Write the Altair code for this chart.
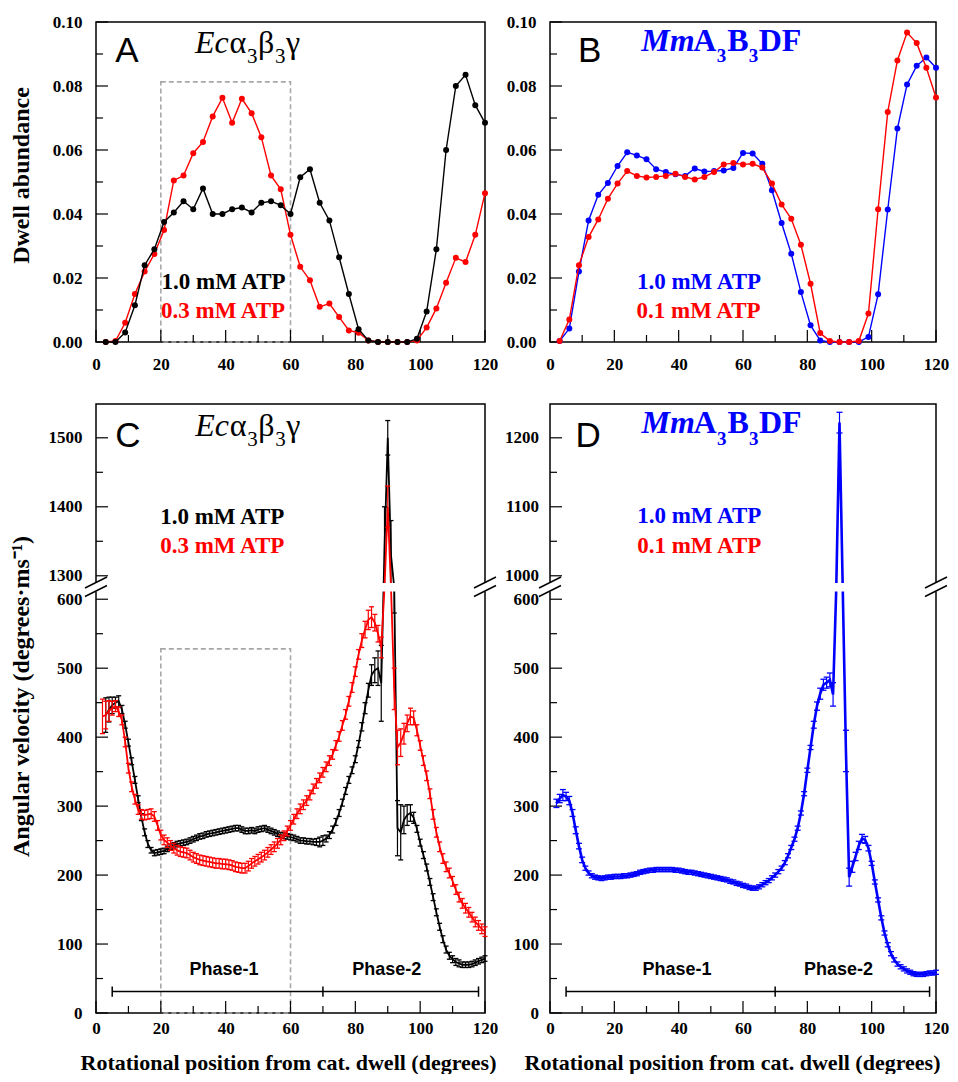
import altair as alt
import pandas as pd

# ---------------- data ----------------
deg_ab = list(range(3, 121, 3))
a_black = [0, 0, 0.003, 0.0115, 0.024, 0.029, 0.0375, 0.0405, 0.044, 0.0415,
           0.048, 0.040, 0.040, 0.0415, 0.042, 0.0405, 0.0435, 0.044, 0.0427, 0.040,
           0.0515, 0.054, 0.0435, 0.038, 0.0265, 0.015, 0.004, 0.0005, 0, 0,
           0, 0, 0.001, 0.0095, 0.029, 0.060, 0.080, 0.0835, 0.074, 0.0685]
a_red = [0, 0.0003, 0.006, 0.015, 0.022, 0.0275, 0.035, 0.0505, 0.052, 0.059,
         0.0625, 0.0705, 0.0763, 0.0685, 0.076, 0.0715, 0.064, 0.052, 0.0477, 0.0335,
         0.0235, 0.0193, 0.011, 0.012, 0.0078, 0.0036, 0.0029, 0.0005, 0, 0,
         0, 0, 0.0005, 0.0045, 0.0105, 0.0185, 0.0263, 0.025, 0.0335, 0.0465]
b_blue = [0.0003, 0.0042, 0.022, 0.038, 0.046, 0.0497, 0.055, 0.0593, 0.0583, 0.0571,
          0.054, 0.0531, 0.0524, 0.0519, 0.0542, 0.0533, 0.0534, 0.0536, 0.0544, 0.0591,
          0.0589, 0.0557, 0.0474, 0.0372, 0.0276, 0.0156, 0.0052, 0.0005, 0, 0,
          0, 0, 0.0016, 0.0149, 0.0414, 0.0667, 0.0805, 0.0863, 0.0889, 0.0857]
b_red = [0.0003, 0.007, 0.024, 0.0328, 0.0383, 0.0448, 0.0495, 0.0534, 0.0519, 0.0514,
         0.0516, 0.0519, 0.0526, 0.0516, 0.0508, 0.0516, 0.0531, 0.0555, 0.0559, 0.0555,
         0.0557, 0.0545, 0.0495, 0.043, 0.0385, 0.0304, 0.0182, 0.0028, 0.0003, 0,
         0, 0.0003, 0.0089, 0.0415, 0.0719, 0.088, 0.0967, 0.0934, 0.0857, 0.0764]

deg_c_black = list(range(3, 121))
c_black = [432, 440, 446, 450, 452, 440, 418, 392, 365, 338,
           310, 284, 262, 245, 236, 232, 233, 234, 235, 238,
           241, 243, 245, 246, 247, 248, 250, 252, 254, 256,
           257, 259, 260, 261, 262, 263, 264, 265, 266, 267,
           268, 268, 266, 264, 264, 265, 264, 266, 267, 268,
           266, 264, 262, 260, 258, 257, 256, 255, 254, 252,
           250, 250, 249, 249, 248, 248, 248, 250, 253, 258,
           266, 277, 290, 305, 322, 338, 352, 368, 390, 415,
           442, 468, 490, 497, 500, 478, 1340, 1500, 1330, 620,
           268, 262, 280, 287, 290, 283, 267, 247, 229, 211,
           190, 168, 146, 125, 107, 92, 83, 78, 74, 72,
           70, 70, 70, 71, 73, 75, 77, 79]
c_black_err = [25, 18, 12, 8, 8, 6, 5, 5, 5, 5,
               5, 5, 5, 5, 4, 4, 4, 4, 4, 4,
               4, 4, 4, 4, 4, 4, 4, 4, 4, 4,
               4, 4, 4, 4, 4, 4, 4, 4, 4, 4,
               4, 4, 4, 4, 4, 4, 4, 4, 4, 4,
               4, 4, 4, 4, 4, 4, 4, 4, 4, 4,
               4, 4, 4, 4, 4, 5, 7, 7, 5, 5,
               5, 5, 5, 5, 5, 5, 5, 5, 5, 6,
               8, 10, 15, 18, 25, 55, 60, 25, 50, 40,
               40, 40, 20, 15, 12, 8, 5, 5, 5, 5,
               5, 5, 5, 5, 5, 5, 5, 5, 5, 5,
               4, 4, 4, 4, 4, 4, 4, 4]
deg_c_red = list(range(2, 121))
c_red = [430, 432, 438, 442, 445, 437, 425, 393, 355, 328,
         310, 295, 288, 287, 288, 289, 285, 272, 258, 251,
         247, 243, 239, 236, 234, 233, 232, 229, 226, 224,
         222, 221, 220, 219, 218, 217, 217, 216, 216, 215,
         214, 212, 211, 210, 210, 213, 217, 220, 223, 226,
         229, 233, 237, 241, 246, 251, 257, 264, 272, 281,
         289, 296, 302, 308, 316, 325, 333, 341, 349, 357,
         366, 375, 388, 401, 417, 433, 452, 472, 495, 520,
         540, 556, 570, 574, 566, 550, 530, 1000, 1400, 1000,
         470, 385, 392, 405, 420, 430, 428, 410, 388, 366,
         344, 318, 288, 262, 241, 224, 212, 203, 191, 179,
         168, 159, 152, 146, 139, 132, 127, 122, 118]
c_red_err = [25, 20, 15, 10, 8, 7, 7, 7, 7, 7,
             7, 7, 7, 7, 7, 7, 7, 7, 7, 7,
             7, 7, 7, 7, 7, 7, 7, 7, 7, 7,
             7, 7, 7, 7, 7, 7, 7, 7, 7, 7,
             7, 7, 7, 7, 7, 7, 7, 7, 7, 7,
             7, 7, 7, 7, 7, 7, 7, 7, 7, 7,
             7, 7, 7, 7, 7, 7, 7, 7, 7, 7,
             7, 7, 7, 7, 7, 7, 7, 7, 7, 7,
             10, 12, 14, 15, 12, 12, 15, 40, 30, 40,
             30, 25, 20, 15, 12, 12, 10, 8, 7, 7,
             7, 7, 7, 7, 7, 7, 7, 7, 7, 7,
             7, 7, 7, 7, 7, 7, 7, 7, 7]
deg_d_blue = list(range(2, 121))
d_blue = [304, 311, 316, 314, 308, 290, 265, 242, 222, 210,
          203, 199, 197, 196, 195, 196, 197, 197, 198, 198,
          198, 199, 199, 200, 201, 202, 204, 205, 206, 207,
          207, 208, 208, 208, 208, 208, 208, 207, 207, 206,
          205, 204, 204, 203, 202, 201, 200, 199, 198, 197,
          196, 195, 194, 193, 191, 190, 188, 187, 185, 184,
          182, 181, 181, 183, 186, 189, 192, 196, 200, 205,
          210, 218, 228, 240, 252, 268, 290, 318, 352, 385,
          418, 445, 463, 476, 479, 483, 462, 900, 1222, 900,
          380, 197, 212, 227, 243, 253, 251, 239, 217, 190,
          164, 138, 116, 99, 86, 77, 71, 67, 64, 61,
          59, 57, 56, 56, 56, 57, 58, 58, 59]
d_blue_err = [6, 6, 8, 6, 6, 5, 5, 4, 4, 3,
              3, 3, 3, 3, 3, 3, 3, 3, 3, 3,
              3, 3, 3, 3, 3, 3, 3, 3, 3, 3,
              3, 3, 3, 3, 3, 3, 3, 3, 3, 3,
              3, 3, 3, 3, 3, 3, 3, 3, 3, 3,
              3, 3, 3, 3, 3, 3, 3, 3, 3, 3,
              3, 3, 3, 3, 3, 3, 3, 3, 3, 3,
              3, 3, 3, 3, 3, 3, 3, 3, 3, 3,
              5, 6, 8, 8, 8, 10, 17, 80, 15, 80,
              30, 13, 8, 6, 6, 6, 5, 4, 3, 3,
              3, 3, 3, 3, 3, 3, 3, 3, 3, 3,
              3, 3, 3, 3, 3, 3, 3, 3, 3]

x_major = [0, 20, 40, 60, 80, 100, 120]
x_minor = [10, 30, 50, 70, 90, 110]
ab_y_major = [0.0, 0.02, 0.04, 0.06, 0.08, 0.10]
ab_y_minor = [0.01, 0.03, 0.05, 0.07, 0.09]
c_y_major = [0, 100, 200, 300, 400, 500, 600, 1300, 1400, 1500]
c_y_minor = [50, 150, 250, 350, 450, 550, 1350, 1450]
d_y_major = [0, 100, 200, 300, 400, 500, 600, 1000, 1100, 1200]
d_y_minor = [50, 150, 250, 350, 450, 550, 1050, 1150]
c_domain = [0, 617, 1283, 1549]
d_domain = [0, 617, 983, 1249]
phase_edges = [5, 70, 118]
phase_y = 31
phase_cap = 7.5
phase_names = ["Phase-1", "Phase-2"]
phase_name_x = [39.5, 89.7]
phase_name_y = 55
box_a = [20, 60, 0, 0.0813]
box_c = [20, 60, 0, 528]

# ---------------- styling ----------------
SERIF = "Liberation Serif"
SANS = "Liberation Sans"
BLUE = "#0000ff"
RED = "#ff0000"
W_L, W_R = 389, 386
COL_GAP, ROW_GAP = 65, 62
H_T, H_B = 320, 609
BREAK_Y = 183.5
SVG_W, SVG_H = 942, 1066
ORIGIN_X, ORIGIN_Y = 88, 14
XTITLE = "Rotational position from cat. dwell (degrees)"


def one():
    return pd.DataFrame({"k": [0]})


def make_x(pad, title="", tx=0):
    def f(field):
        return alt.X(f"{field}:Q",
                     scale=alt.Scale(domain=[0, 120], nice=False, zero=False),
                     axis=alt.Axis(values=x_major, format="d", ticks=False, domain=False, grid=False,
                                   labelPadding=pad, labelFont=SERIF, labelFontSize=17,
                                   labelFontWeight="bold", labelColor="black", labelFlush=False,
                                   labelOverlap=False, titleFont=SERIF, titleFontSize=22,
                                   titleFontWeight="bold", titleColor="black", titleY=56,
                                   titleX=tx, titleAlign="center", titleBaseline="alphabetic"),
                     title=title)
    return f


def make_y(scale, values, fmt, pad, title="", tx=-75, ty=150):
    def f(field):
        return alt.Y(f"{field}:Q", scale=scale,
                     axis=alt.Axis(values=values, format=fmt, ticks=False, domain=False, grid=False,
                                   labelPadding=pad, labelFont=SERIF, labelFontSize=17,
                                   labelFontWeight="bold", labelColor="black", labelOverlap=False,
                                   labelFlush=False,
                                   titleFont=SERIF, titleFontSize=24, titleFontWeight="bold",
                                   titleColor="black", titleAngle=270, titleX=tx, titleY=ty,
                                   titleBaseline="middle", titleAlign="center"),
                     title=title)
    return f


def text_at(txt, x, y, size, color="black", font=SERIF, weight="normal", style="normal"):
    return alt.Chart(one()).mark_text(text=txt, font=font, fontSize=size, fontWeight=weight,
                                      fontStyle=style, color=color, align="left",
                                      baseline="alphabetic").encode(x=alt.value(x), y=alt.value(y))


def ticks(X, Y, H, ymaj, ymin):
    out = []
    for vals, ln in ((x_major, 12), (x_minor, 7)):
        out.append(alt.Chart(pd.DataFrame({"v": vals})).mark_rule(color="black", strokeWidth=1.2)
                   .encode(x=X("v"), y=alt.value(H), y2=alt.value(H - ln)))
    for vals, ln in ((ymaj, 12), (ymin, 7)):
        out.append(alt.Chart(pd.DataFrame({"v": vals})).mark_rule(color="black", strokeWidth=1.2)
                   .encode(y=Y("v"), x=alt.value(0), x2=alt.value(ln)))
    return out


def box(b, X, Y):
    df = pd.DataFrame({"x1": [b[0]], "x2": [b[1]], "y1": [b[2]], "y2": [b[3]]})
    return alt.Chart(df).mark_rect(fillOpacity=0, stroke="#a8a8a8", strokeWidth=1.6,
                                   strokeDash=[5, 3]).encode(x=X("x1"), x2="x2", y=Y("y1"), y2="y2")


def line_pts(xs, ys, color, X, Y):
    df = pd.DataFrame({"x": xs, "y": ys})
    return alt.Chart(df).mark_line(color=color, strokeWidth=1.4,
                                   point=alt.OverlayMarkDef(filled=True, size=36, color=color, opacity=1)
                                   ).encode(x=X("x"), y=Y("y"))


def err_series(xs, ys, es, color, X, Y, lw, cap=5):
    df = pd.DataFrame({"x": xs, "y": ys,
                       "lo": [v - e for v, e in zip(ys, es)],
                       "hi": [v + e for v, e in zip(ys, es)]})
    base = alt.Chart(df)
    return [
        base.mark_rule(color=color, strokeWidth=1.2).encode(x=X("x"), y=Y("lo"), y2="hi"),
        base.mark_tick(color=color, orient="horizontal", size=cap, thickness=1.3, opacity=1)
            .encode(x=X("x"), y=Y("lo")),
        base.mark_tick(color=color, orient="horizontal", size=cap, thickness=1.3, opacity=1)
            .encode(x=X("x"), y=Y("hi")),
        base.mark_line(color=color, strokeWidth=lw).encode(x=X("x"), y=Y("y")),
    ]


def phases(X, Y):
    bar = pd.DataFrame({"a": [phase_edges[0]], "b": [phase_edges[-1]], "y": [phase_y]})
    caps = pd.DataFrame({"x": phase_edges,
                         "lo": [phase_y - phase_cap] * 3, "hi": [phase_y + phase_cap] * 3})
    labs = pd.DataFrame({"x": phase_name_x, "y": [phase_name_y] * 2, "t": phase_names})
    return [
        alt.Chart(bar).mark_rule(color="black", strokeWidth=1.5).encode(x=X("a"), x2="b", y=Y("y")),
        alt.Chart(caps).mark_rule(color="black", strokeWidth=1.5).encode(x=X("x"), y=Y("lo"), y2="hi"),
        alt.Chart(labs).mark_text(font=SANS, fontSize=18, fontWeight="bold", color="black",
                                  baseline="alphabetic").encode(x=X("x"), y=Y("y"), text="t:N"),
    ]


def breaks(W):
    out = [alt.Chart(one()).mark_rect(color="white").encode(
        x=alt.value(-2), x2=alt.value(W + 2), y=alt.value(BREAK_Y - 4.5), y2=alt.value(BREAK_Y + 4))]
    for cx in (0, W):
        for dy in (0.5, 9):
            out.append(alt.Chart(one()).mark_rule(color="black", strokeWidth=1.5).encode(
                x=alt.value(cx - 11), x2=alt.value(cx + 11),
                y=alt.value(BREAK_Y + dy), y2=alt.value(BREAK_Y + dy - 11)))
    return out


def ec_title(x0, base, sub):
    xs = [x0, x0 + 34.5, x0 + 52, x0 + 63, x0 + 80, x0 + 91]
    return [
        text_at("Ec", xs[0], base, 32, style="italic"),
        text_at("α", xs[1], base, 32),
        text_at("3", xs[2], sub, 21),
        text_at("β", xs[3], base, 32),
        text_at("3", xs[4], sub, 21),
        text_at("γ", xs[5], base, 32),
    ]


def mm_title(x0, base, sub):
    xs = [x0, x0 + 52, x0 + 75.5, x0 + 86, x0 + 107.5, x0 + 117.5]
    return [
        text_at("Mm", xs[0], base, 32, BLUE, weight="bold", style="italic"),
        text_at("A", xs[1], base, 32, BLUE, weight="bold"),
        text_at("3", xs[2], sub, 19, BLUE, weight="bold"),
        text_at("B", xs[3], base, 32, BLUE, weight="bold"),
        text_at("3", xs[4], sub, 19, BLUE, weight="bold"),
        text_at("DF", xs[5], base, 32, BLUE, weight="bold"),
    ]


ab_scale = alt.Scale(domain=[0, 0.1], nice=False, zero=False)

# ---------------- panel A ----------------
XA = make_x(14)
YA = make_y(ab_scale, ab_y_major, ".2f", 14, "Dwell abundance", -75, 153)
panel_a = alt.layer(
    box(box_a, XA, YA),
    *ticks(XA, YA, H_T, ab_y_major, ab_y_minor),
    line_pts(deg_ab, a_red, RED, XA, YA),
    line_pts(deg_ab, a_black, "black", XA, YA),
    text_at("A", 19.3, 40, 35, font=SANS),
    *ec_title(99, 31.3, 40.5),
    text_at("1.0 mM ATP", 65.5, 267.3, 23, weight="bold"),
    text_at("0.3 mM ATP", 65, 296.3, 23, RED, weight="bold"),
).properties(width=W_L, height=H_T)

# ---------------- panel B ----------------
XB = make_x(14)
YB = make_y(ab_scale, ab_y_major, ".2f", 14)
panel_b = alt.layer(
    *ticks(XB, YB, H_T, ab_y_major, ab_y_minor),
    line_pts(deg_ab, b_blue, BLUE, XB, YB),
    line_pts(deg_ab, b_red, RED, XB, YB),
    text_at("B", 27.9, 40, 35, font=SANS),
    *mm_title(91.2, 28.7, 39.7),
    text_at("1.0 mM ATP", 86.9, 266.5, 23, BLUE, weight="bold"),
    text_at("0.1 mM ATP", 86.5, 296.3, 23, RED, weight="bold"),
).properties(width=W_R, height=H_T)

# ---------------- panel C ----------------
XC = make_x(7, XTITLE, 192)
c_scale = alt.Scale(domain=c_domain, range=[H_B, BREAK_Y, BREAK_Y, 0], nice=False, zero=False)
YC = make_y(c_scale, c_y_major, "d", 14, "Angular velocity (degrees·ms⁻¹)", -75, 292)
panel_c = alt.layer(
    box(box_c, XC, YC),
    *ticks(XC, YC, H_B, c_y_major, c_y_minor),
    *phases(XC, YC),
    *err_series(deg_c_black, c_black, c_black_err, "black", XC, YC, 1.8),
    *err_series(deg_c_red, c_red, c_red_err, RED, XC, YC, 1.8),
    *breaks(W_L),
    text_at("C", 19.2, 42.7, 35, font=SANS),
    *ec_title(99.2, 31.5, 42),
    text_at("1.0 mM ATP", 64.2, 120, 23, weight="bold"),
    text_at("0.3 mM ATP", 64.2, 149.3, 23, RED, weight="bold"),
).properties(width=W_L, height=H_B)

# ---------------- panel D ----------------
XD = make_x(7, XTITLE, 182)
d_scale = alt.Scale(domain=d_domain, range=[H_B, BREAK_Y, BREAK_Y, 0], nice=False, zero=False)
YD = make_y(d_scale, d_y_major, "d", 11.5)
panel_d = alt.layer(
    *ticks(XD, YD, H_B, d_y_major, d_y_minor),
    *phases(XD, YD),
    *err_series(deg_d_blue, d_blue, d_blue_err, BLUE, XD, YD, 2.6, cap=6),
    *breaks(W_R),
    text_at("D", 25.5, 42.7, 35, font=SANS),
    *mm_title(91.5, 29.3, 41),
    text_at("1.0 mM ATP", 87.2, 119.3, 23, BLUE, weight="bold"),
    text_at("0.1 mM ATP", 87.2, 149.3, 23, RED, weight="bold"),
).properties(width=W_R, height=H_B)

chart = alt.concat(panel_a, panel_b, panel_c, panel_d, columns=2,
                   spacing={"row": ROW_GAP, "column": COL_GAP}, bounds="flush").properties(
    autosize=alt.AutoSizeParams(type="none"),
    padding={"left": ORIGIN_X, "top": ORIGIN_Y,
             "right": SVG_W - ORIGIN_X, "bottom": SVG_H - ORIGIN_Y},
).configure_view(stroke="black", strokeWidth=1.5)

chart.save("out.html", embed_options={"renderer": "svg", "actions": False})
